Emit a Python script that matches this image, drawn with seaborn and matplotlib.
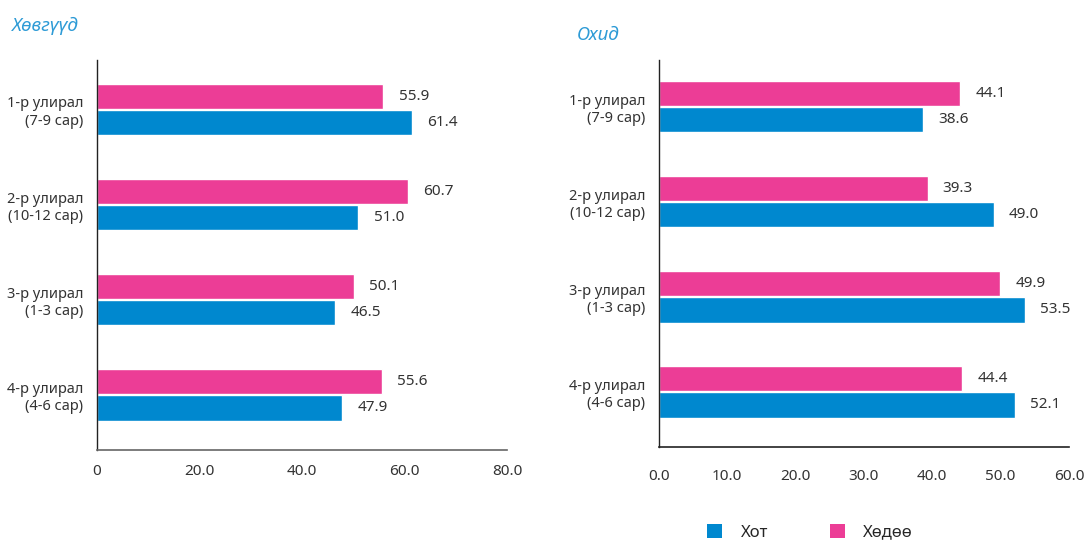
import numpy as np
import pandas as pd
import matplotlib.pyplot as plt
import seaborn as sns
from matplotlib.patches import Patch

# ---- data ----
quarters = ["1-р улирал\n(7-9 сар)", "2-р улирал\n(10-12 сар)",
            "3-р улирал\n(1-3 сар)", "4-р улирал\n(4-6 сар)"]
series = ["Хот", "Хөдөө"]
boys_city = [61.4, 51.0, 46.5, 47.9]
boys_rural = [55.9, 60.7, 50.1, 55.6]
girls_city = [38.6, 49.0, 53.5, 52.1]
girls_rural = [44.1, 39.3, 49.9, 44.4]

colors = {"Хот": "#0088CF", "Хөдөө": "#EC3D96"}
title_color = "#2E9BD6"


def long_df(city, rural):
    rows = []
    for q, c, r in zip(quarters, city, rural):
        rows.append({"Улирал": q, "Бүс": "Хот", "Хувь": c})
        rows.append({"Улирал": q, "Бүс": "Хөдөө", "Хувь": r})
    return pd.DataFrame(rows)


sns.set_theme(style="white")
plt.rcParams["font.family"] = ["Noto Sans", "DejaVu Sans"]

fig = plt.figure(figsize=(10.86, 5.42), dpi=100)
ax1 = fig.add_axes([0.0893, 0.1697, 0.3775, 0.7196])
ax2 = fig.add_axes([0.6068, 0.1753, 0.3775, 0.7140])


def draw(ax, df, xmax, step, ylim, fmt_zero, xpad, spine_col):
    sns.barplot(data=df, y="Улирал", x="Хувь", hue="Бүс",
                hue_order=["Хөдөө", "Хот"], palette=colors,
                orient="h", width=0.55, gap=0.03, ax=ax, legend=False,
                saturation=1)
    ax.set_xlim(0, xmax)
    ax.set_ylim(*ylim)
    ticks = np.arange(0, xmax + step / 2, step)
    ax.set_xticks(ticks)
    ax.set_xticklabels([fmt_zero if t == 0 else f"{t:.1f}" for t in ticks],
                       fontsize=11, color="#333333")
    ax.tick_params(axis="x", length=5, width=1, color=spine_col, pad=xpad)
    ax.tick_params(axis="y", length=0, pad=10, labelsize=10.5,
                   labelcolor="#333333")
    ax.set_xlabel("")
    ax.set_ylabel("")
    for s in ["top", "right"]:
        ax.spines[s].set_visible(False)
    ax.spines["left"].set_color("#222222")
    ax.spines["bottom"].set_color(spine_col)
    ax.spines["left"].set_linewidth(1)
    ax.spines["bottom"].set_linewidth(1.2)
    for cont in ax.containers:
        ax.bar_label(cont, fmt="%.1f", padding=11, fontsize=11,
                     color="#333333")


draw(ax1, long_df(boys_city, boys_rural), 80, 20, (3.58, -0.52), "0",
     5, "#666666")
draw(ax2, long_df(girls_city, girls_rural), 60, 10, (3.58, -0.49), "0.0",
     11, "#222222")

fig.text(0.011, 0.953, "Хөвгүүд", fontsize=13.5, style="italic",
         color=title_color, va="center", ha="left")
fig.text(0.531, 0.935, "Охид", fontsize=13.5, style="italic",
         color=title_color, va="center", ha="left")

handles = [Patch(facecolor=colors[s], edgecolor="none") for s in series]
fig.legend(handles, series, loc="center", bbox_to_anchor=(0.746, 0.018),
           ncol=2, frameon=False, fontsize=12, handlelength=0.9,
           handleheight=0.9, columnspacing=3.7, handletextpad=1.1)

fig.savefig("out.png", dpi=100)
